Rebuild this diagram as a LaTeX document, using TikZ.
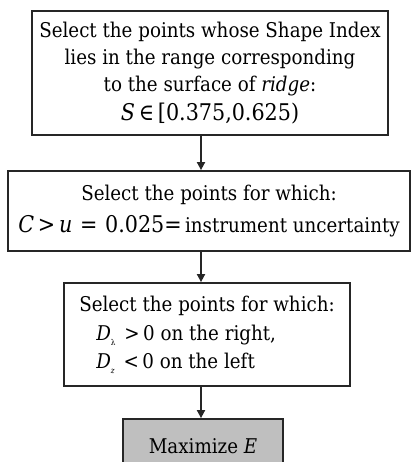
\documentclass[tikz,border=0pt]{standalone}
\usepackage{fontspec}
\setmainfont{DejaVu Serif Condensed}
\usetikzlibrary{arrows.meta}
\newcommand{\mysub}[1]{\raisebox{-5pt}{\fontsize{8}{8}\selectfont #1}}
\newcommand{\mathbig}[1]{{\fontsize{23}{27}\selectfont #1}}
\begin{document}
\begin{tikzpicture}[x=1pt,y=-1pt,
  box/.style={draw=black!85,line width=1.8pt,align=center,inner sep=0pt,
    font=\fontsize{20.3}{27}\selectfont},
  arr/.style={draw=black!85,line width=1.8pt,-{Triangle[length=8pt,width=8pt]}}]
\useasboundingbox (0,0) rectangle (412,462);
\node[box,minimum width=356pt,minimum height=124pt] (b1) at (210,73)
  {Select the points whose Shape Index\\lies in the range corresponding\\to the surface of \textit{ridge}:\\[2pt]\mathbig{\textit{S}\,∈\,[0.375,0.625)}};
\node[box,minimum width=402pt,minimum height=80pt] (b2) at (209,211)
  {Select the points for which:\\[5pt]\mathbig{\textit{C}\,>\,\textit{u}\,\,=\,\,0.025=}\,instrument uncertainty};
\node[box,minimum width=286pt,minimum height=103pt] (b3) at (207,334.5)
  {\begin{tabular}{@{}l@{}}Select the points for which:\\[2pt]
   \hspace{17pt}\textit{D}\mysub{λ}\hspace{9pt}>\,0 on the right,\\[1pt]
   \hspace{17pt}\textit{D}\mysub{\textit{z}}\hspace{9pt}<\,0 on the left\end{tabular}};
\node[box,fill=black!25,minimum width=160pt,minimum height=54pt] (b4) at (203,446)
  {Maximize \textit{E}};
\coordinate (ax) at (201,0);
\draw[arr] (b1.south -| ax) -- (b2.north -| ax);
\draw[arr] (b2.south -| ax) -- (b3.north -| ax);
\draw[arr] (b3.south -| ax) -- (b4.north -| ax);
\end{tikzpicture}
\end{document}
